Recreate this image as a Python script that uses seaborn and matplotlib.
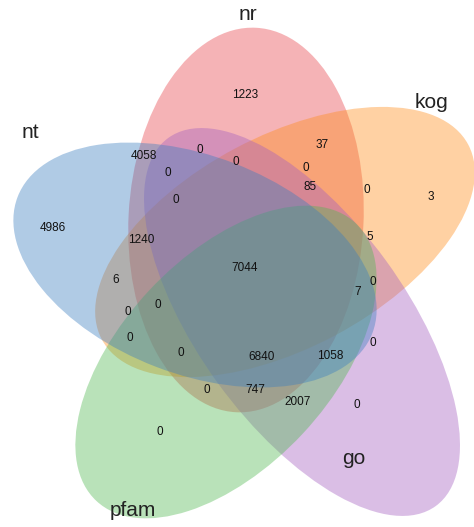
import matplotlib
matplotlib.use("Agg")
import matplotlib.pyplot as plt
from matplotlib.patches import Ellipse
import seaborn as sns

sns.set_theme(style="white")
plt.rcParams["font.family"] = ["Arial", "Liberation Sans", "DejaVu Sans"]

# sets: name, colour
set_names = ["nr", "kog", "go", "pfam", "nt"]
set_colors = ["#E8434A", "#FF8C1A", "#A35EC0", "#50B850", "#3A7DC0"]

# region counts as printed in the diagram
counts = [1223, 37, 0, 0, 0, 4058, 0, 85, 0, 3, 0, 4986, 1240, 5, 7044,
          6, 7, 0, 0, 0, 0, 0, 6840, 1058, 0, 0, 747, 2007, 0, 0]

# layout (pixel coordinates of the picture)
ellipses = [  # cx, cy, major, minor, angle
    (246, 220, 385, 235, 93),
    (285, 242, 415, 212, -28),
    (302, 322, 455, 208, 54),
    (226, 362, 380, 210, -47),
    (195, 265, 380, 218, 21),
]
label_pos = [(248, 15), (432, 102), (354, 458), (133, 511), (30, 133)]
count_pos = [(245, 95), (322, 145), (200, 150), (236, 162), (306, 168), (144, 156),
             (168, 173), (310, 187), (367, 190), (431, 197), (176, 200), (53, 228),
             (141, 240), (370, 237), (245, 268), (116, 280), (358, 292), (373, 282),
             (158, 305), (128, 312), (130, 338), (373, 343), (262, 357), (330, 356),
             (181, 353), (207, 390), (255, 390), (298, 402), (357, 405), (160, 432)]

fig = plt.figure(figsize=(4.74, 5.27), dpi=100)
ax = fig.add_axes([0, 0, 1, 1])
ax.set_xlim(0, 474)
ax.set_ylim(527, 0)
ax.axis("off")

for (cx, cy, w, h, a), c in zip(ellipses, set_colors):
    ax.add_patch(Ellipse((cx, cy), w, h, angle=a, facecolor=c, alpha=0.4, edgecolor="none"))

for name, (x, y) in zip(set_names, label_pos):
    ax.text(x, y, name, ha="center", va="center", fontsize=15, color="#222222")

for n, (x, y) in zip(counts, count_pos):
    ax.text(x, y, str(n), ha="center", va="center", fontsize=8.5, color="#111111")

fig.savefig("out.png", dpi=100)
